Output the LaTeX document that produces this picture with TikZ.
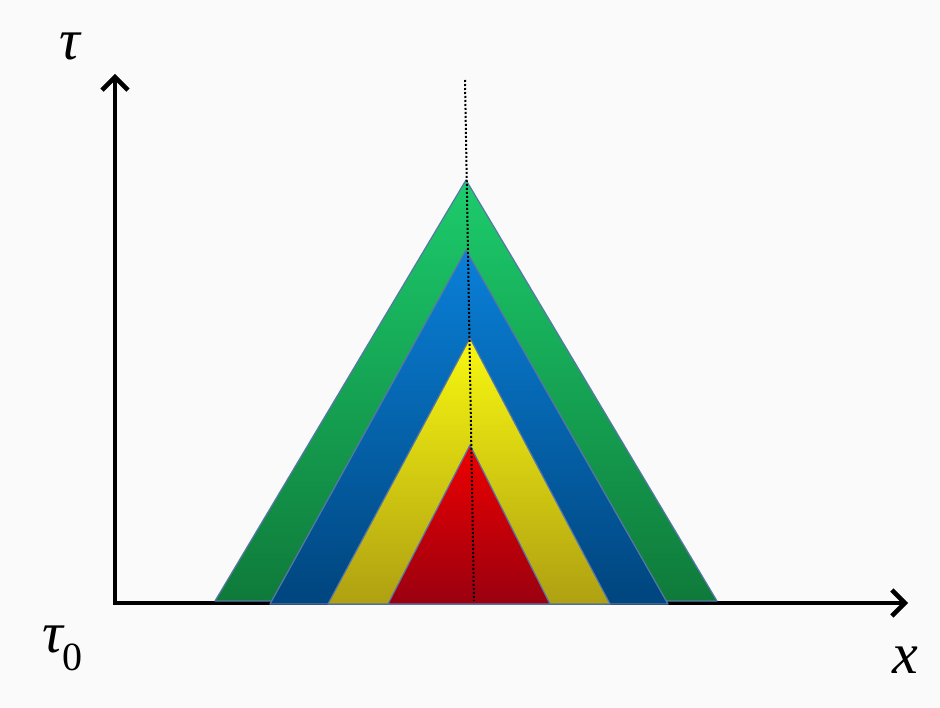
\documentclass[tikz,border=0pt]{standalone}
\usepackage{fontspec}
\setmainfont{Liberation Serif}
\usetikzlibrary{arrows.meta}
\definecolor{bg}{HTML}{FAFAFA}
\definecolor{edge}{HTML}{5877A8}
\definecolor{gtop}{HTML}{1CCC6C}
\definecolor{gbot}{HTML}{0F7A3A}
\definecolor{btop}{HTML}{0A80D8}
\definecolor{bbot}{HTML}{00457E}
\definecolor{ytop}{HTML}{F8F810}
\definecolor{ybot}{HTML}{AFA012}
\definecolor{rtop}{HTML}{EE0000}
\definecolor{rbot}{HTML}{9A0010}
\tikzset{
  axis/.style={line width=4.5pt, -{Straight Barb[length=13pt,width=26pt,line width=4.5pt]}},
  tri/.style={draw=edge, line width=1.2pt, line join=round},
  lbl/.style={font=\fontsize{58}{64}\selectfont\itshape, inner sep=0pt}
}
\begin{document}
\begin{tikzpicture}[x=1pt,y=-1pt]
\fill[bg] (0,0) rectangle (940,708);
\useasboundingbox (0,0) rectangle (940,708);
\coordinate (O) at (115,603);
\coordinate (ytip) at (115,74);
\coordinate (xtip) at (908,603);
\draw[axis] (O) -- (ytip);
\draw[axis] (112.75,603) -- (xtip);
% triangles
\shade[tri, top color=gtop, bottom color=gbot] (466,180) -- (717,601) -- (215,601) -- cycle;
\shade[tri, top color=btop, bottom color=bbot] (466,250) -- (668,604) -- (270,604) -- cycle;
\shade[tri, top color=ytop, bottom color=ybot] (470,338) -- (610,604) -- (328,604) -- cycle;
\shade[tri, top color=rtop, bottom color=rbot] (470,445) -- (550,604) -- (388,604) -- cycle;
\coordinate (dtop) at (465,80);
\coordinate (dbot) at (474,601);
\draw[line width=2pt, dash pattern=on 2pt off 2pt, black] (dtop) -- (dbot);
\node[lbl] (tau) at (70,46) {τ};
\node[lbl, anchor=base west] (tau0) at (42,652) {τ\textsubscript{\upshape\fontsize{40}{44}\selectfont 0}};
\node[lbl] (xl) at (905,660) {x};
\end{tikzpicture}
\end{document}
